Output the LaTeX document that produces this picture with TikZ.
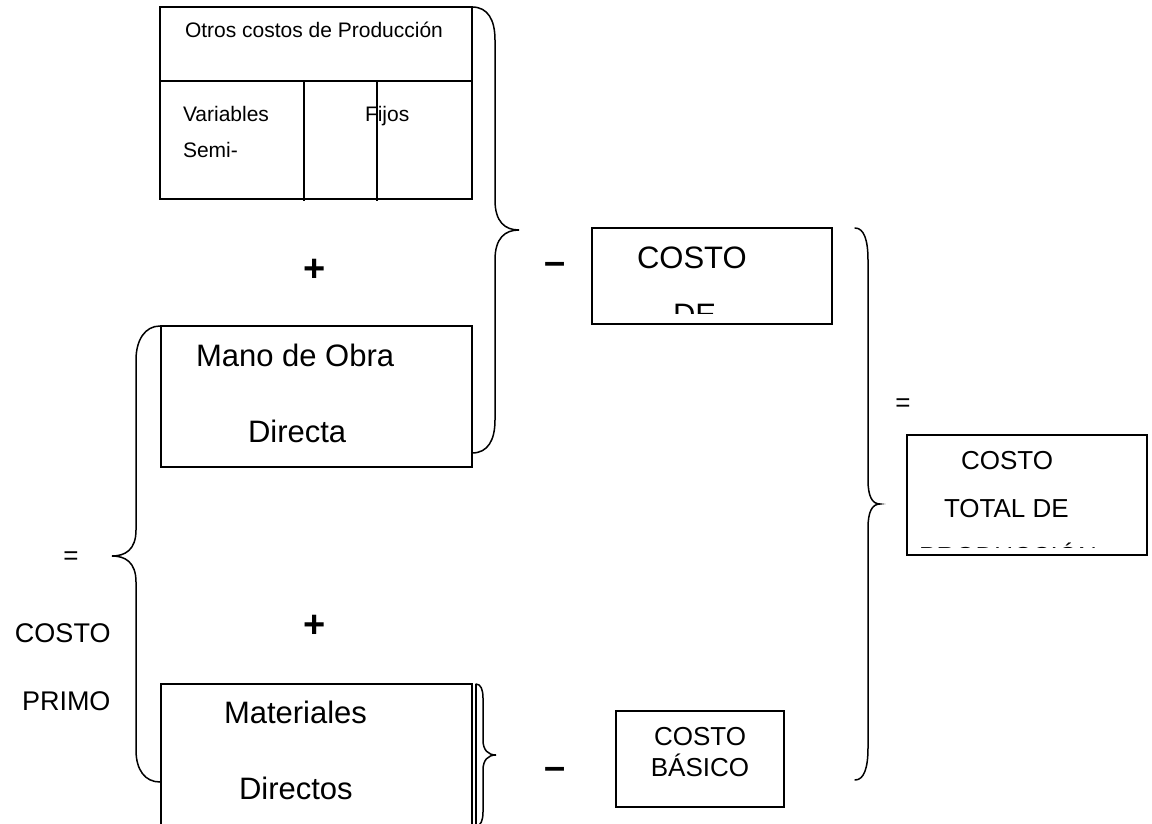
\documentclass[tikz,border=0pt]{standalone}
\usepackage{fontspec}
\setmainfont{Liberation Sans}
\begin{document}
\begin{tikzpicture}[x=1pt,y=-1pt,
  box/.style={draw,line width=1.5pt,rectangle,inner sep=0pt,outer sep=0pt,anchor=north west},
  rule/.style={line width=1.5pt},
  brace/.style={line width=1.5pt,line cap=round},
  lbl/.style={inner sep=0pt,outer sep=0pt,anchor=base west},
  ctr/.style={inner sep=0pt,outer sep=0pt,anchor=base},
  sml/.style={font=\fontsize{21}{25}\selectfont},
  big/.style={font=\fontsize{31}{37}\selectfont},
  mid/.style={font=\fontsize{26}{31}\selectfont},
  sign/.style={inner sep=0pt,outer sep=0pt,font=\fontsize{38}{45}\selectfont\bfseries}]
\useasboundingbox (0,0) rectangle (1152,824);

% --- overheads box with its two columns
\node[box,minimum width=312pt,minimum height=192pt] (otros) at (160,7) {};
\draw[rule] (160,81) -- (472,81);
\coordinate (colA) at (304,81);
\coordinate (colB) at (377,81);
\draw[rule] (colA) -- (304,201);
\draw[rule] (colB) -- (377,201);
\node[lbl,sml] (otrosT) at (185,38) {Otros costos de Producción};
\node[lbl,sml] (varT) at (183,122) {Variables};
\node[lbl,sml] (semiT) at (183,158) {Semi-};
\node[lbl,sml] (fijT) at (365,122) {Fijos};

% --- direct labour
\node[box,minimum width=311pt,minimum height=141pt] (mano) at (161,326) {};
\node[lbl,big] (manoA) at (196,366) {Mano de Obra};
\node[lbl,big] (manoB) at (248,442) {Directa};

% --- direct materials (runs off the bottom edge)
\draw[rule] (161,830) -- (161,684) -- (472,684) -- (472,830);
\draw[rule] (476,684) -- (476,830);
\node[inner sep=0pt] (mat) at (316,757) {};
\node[lbl,big] (matA) at (224,723) {Materiales};
\node[lbl,big] (matB) at (239,799) {Directos};

% --- conversion cost box (text cut at the lower edge)
\node[box,minimum width=240pt,minimum height=96pt] (conv) at (592,228) {};
\begin{scope}
  \clip (592,228) rectangle (832,313);
  \node[lbl,big] (convA) at (637,268) {COSTO};
  \node[lbl,big] (convB) at (673,325) {DE};
\end{scope}

% --- basic cost box
\node[box,minimum width=168pt,minimum height=96pt] (basico) at (616,711) {};
\node[ctr,mid] (basA) at (700,745) {COSTO};
\node[ctr,mid] (basB) at (700,776) {BÁSICO};

% --- total production cost box (third line cut)
\node[box,minimum width=240pt,minimum height=120pt] (total) at (907,435) {};
\node[lbl,mid] (totA) at (961,469) {COSTO};
\node[lbl,mid] (totB) at (944,517) {TOTAL DE};
\begin{scope}
  \clip (907,435) rectangle (1147,547);
  \node[ctr,mid] (totC) at (1008,565) {PRODUCCIÓN};
\end{scope}

% --- operators
\node[sign] (plusA) at (315,270) {+};
\node[sign] (plusB) at (315,626) {+};
\node[sign] (minA) at (555,268) {–};
\node[sign] (minB) at (555,773) {–};
\node[inner sep=0pt,mid] (eqL) at (71,558) {=};
\node[inner sep=0pt,mid] (eqR) at (903,405) {=};
\node[lbl,font=\fontsize{27}{32}\selectfont] (primA) at (15,642) {COSTO};
\node[lbl,font=\fontsize{27}{32}\selectfont] (primB) at (22,710) {PRIMO};

% --- braces
\draw[brace] (472,7) .. controls (488,7) and (495,20) .. (495,40) -- (495,200)
  .. controls (495,222) and (505,230) .. (519,230)
  .. controls (505,230) and (495,238) .. (495,260) -- (495,420)
  .. controls (495,440) and (488,453) .. (472,453);
\draw[brace] (160,326) .. controls (145,326) and (136,340) .. (136,360) -- (136,530)
  .. controls (136,550) and (125,556) .. (112,556)
  .. controls (125,556) and (136,562) .. (136,582) -- (136,750)
  .. controls (136,770) and (145,782) .. (160,782);
\draw[brace] (476,684) .. controls (481,684) and (483,690) .. (483,698) -- (483,740)
  .. controls (483,750) and (488,755) .. (496,755)
  .. controls (488,755) and (483,760) .. (483,770) -- (483,812)
  .. controls (483,820) and (481,826) .. (476,826);
\draw[brace] (855,228) .. controls (864,228) and (868,240) .. (868,260) -- (868,480)
  .. controls (868,496) and (872,504) .. (880,504)
  .. controls (872,504) and (868,512) .. (868,528) -- (868,748)
  .. controls (868,768) and (864,780) .. (855,780);
\end{tikzpicture}
\end{document}
